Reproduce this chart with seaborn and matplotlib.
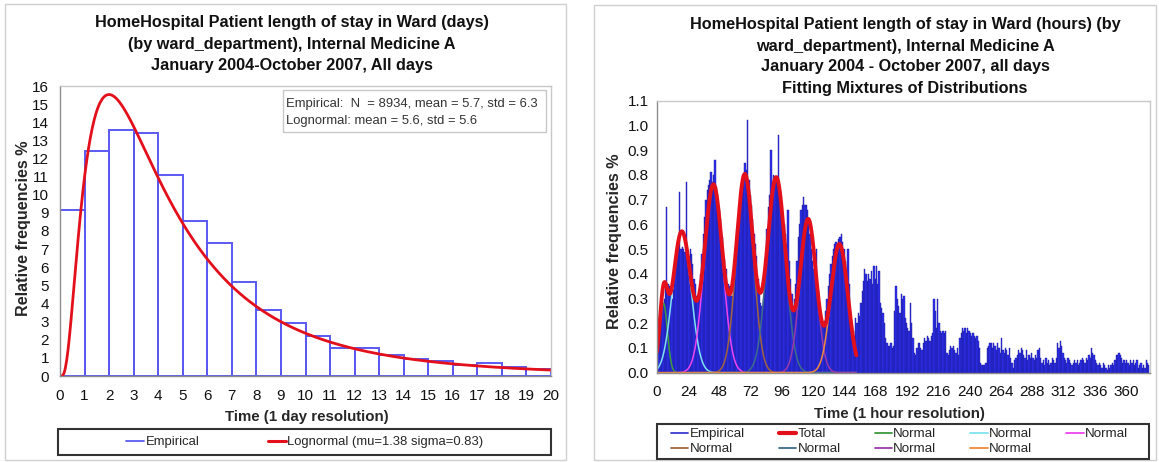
import numpy as np
import pandas as pd
import matplotlib
matplotlib.use("Agg")
import matplotlib.pyplot as plt
from matplotlib.lines import Line2D
from matplotlib.patches import Rectangle
import seaborn as sns

# ------------------------------------------------------------------ data
# Left panel: length of stay in days (relative frequency %, one bar per day)
day_start = list(range(20))
day_freq = [9.15, 12.4, 13.6, 13.4, 11.1, 8.55, 7.35, 5.2, 3.65, 2.9,
            2.2, 1.55, 1.55, 1.15, 0.95, 0.85, 0.6, 0.7, 0.5, 0.4]
day_xticks = list(range(21))
day_yticks = list(range(17))
logn_mu = 1.38
logn_sigma = 0.83
logn_scale = 0.91          # vertical scale of the plotted fitted curve
left_title = ["HomeHospital Patient length of stay in Ward (days)",
              "(by ward_department), Internal Medicine A",
              "January 2004-October 2007, All days"]
left_stats = ["Empirical:  N  = 8934, mean = 5.7, std = 6.3",
              "Lognormal: mean = 5.6, std = 5.6"]
left_legend = ["Empirical", "Lognormal (mu=1.38 sigma=0.83)"]

# Right panel: length of stay in hours (relative frequency %, one bar per hour)
hours_d00 = [0.10, 0.16, 0.24, 0.28, 0.28, 0.30, 0.36, 0.67, 0.36, 0.35, 0.33, 0.30,
             0.34, 0.40, 0.46, 0.50, 0.51, 0.73, 0.50, 0.51, 0.50, 0.49, 0.77, 0.49]
hours_d01 = [0.47, 0.50, 0.48, 0.44, 0.38, 0.36, 0.31, 0.30, 0.33, 0.40, 0.48, 0.56,
             0.63, 0.70, 0.74, 0.76, 0.78, 0.81, 0.77, 0.80, 0.86, 0.75, 0.72, 0.66]
hours_d02 = [0.62, 0.56, 0.55, 0.46, 0.41, 0.42, 0.36, 0.35, 0.33, 0.31, 0.34, 0.40,
             0.48, 0.55, 0.62, 0.68, 0.73, 0.78, 0.80, 0.85, 0.82, 1.02, 0.78, 0.72]
hours_d03 = [0.68, 0.62, 0.56, 0.52, 0.47, 0.38, 0.32, 0.28, 0.27, 0.30, 0.36, 0.45,
             0.58, 0.67, 0.72, 0.90, 0.74, 0.80, 0.79, 0.78, 0.76, 0.96, 0.72, 0.68]
hours_d04 = [0.64, 0.60, 0.56, 0.52, 0.66, 0.45, 0.38, 0.32, 0.27, 0.30, 0.36, 0.45,
             0.55, 0.60, 0.66, 0.68, 0.71, 0.68, 0.68, 0.66, 0.62, 0.56, 0.50, 0.45]
hours_d05 = [0.42, 0.36, 0.50, 0.33, 0.28, 0.24, 0.20, 0.19, 0.21, 0.25, 0.30, 0.35,
             0.40, 0.44, 0.47, 0.50, 0.52, 0.53, 0.52, 0.54, 0.55, 0.56, 0.53, 0.50]
hours_d06 = [0.45, 0.36, 0.50, 0.36, 0.25, 0.20, 0.17, 0.15, 0.22, 0.20, 0.24, 0.23,
             0.28, 0.33, 0.37, 0.42, 0.40, 0.37, 0.40, 0.38, 0.41, 0.36, 0.43, 0.38]
hours_d07 = [0.43, 0.36, 0.41, 0.28, 0.26, 0.24, 0.20, 0.14, 0.12, 0.11, 0.11, 0.12,
             0.10, 0.11, 0.25, 0.35, 0.30, 0.27, 0.24, 0.32, 0.30, 0.31, 0.22, 0.20]
hours_d08 = [0.18, 0.17, 0.28, 0.20, 0.14, 0.08, 0.07, 0.10, 0.12, 0.12, 0.10, 0.09,
             0.12, 0.14, 0.13, 0.15, 0.14, 0.13, 0.15, 0.16, 0.30, 0.25, 0.18, 0.30]
hours_d09 = [0.20, 0.17, 0.16, 0.17, 0.16, 0.17, 0.08, 0.07, 0.09, 0.11, 0.10, 0.11,
             0.09, 0.08, 0.10, 0.07, 0.14, 0.16, 0.18, 0.17, 0.18, 0.16, 0.18, 0.17]
hours_d10 = [0.16, 0.15, 0.16, 0.15, 0.14, 0.15, 0.13, 0.10, 0.04, 0.03, 0.03, 0.03,
             0.04, 0.10, 0.11, 0.12, 0.12, 0.10, 0.12, 0.11, 0.09, 0.12, 0.10, 0.08]
hours_d11 = [0.14, 0.09, 0.08, 0.10, 0.09, 0.07, 0.10, 0.06, 0.04, 0.02, 0.05, 0.06,
             0.07, 0.09, 0.08, 0.10, 0.09, 0.07, 0.06, 0.09, 0.05, 0.07, 0.06, 0.08]
hours_d12 = [0.06, 0.05, 0.07, 0.06, 0.09, 0.10, 0.06, 0.04, 0.05, 0.03, 0.06, 0.04,
             0.05, 0.03, 0.04, 0.06, 0.05, 0.04, 0.06, 0.12, 0.10, 0.13, 0.11, 0.08]
hours_d13 = [0.06, 0.05, 0.04, 0.06, 0.05, 0.04, 0.03, 0.04, 0.05, 0.04, 0.05, 0.03,
             0.04, 0.05, 0.06, 0.05, 0.04, 0.06, 0.05, 0.07, 0.06, 0.10, 0.08, 0.07]
hours_d14 = [0.05, 0.04, 0.03, 0.04, 0.03, 0.02, 0.04, 0.03, 0.02, 0.01, 0.03, 0.02,
             0.03, 0.04, 0.03, 0.05, 0.07, 0.07, 0.08, 0.07, 0.06, 0.04, 0.05, 0.04]
hours_d15 = [0.05, 0.04, 0.03, 0.05, 0.04, 0.05, 0.03, 0.04, 0.05, 0.02, 0.03, 0.04,
             0.02, 0.03, 0.02, 0.05, 0.04, 0.03]
hour_xticks = list(range(0, 361, 24))
hour_yticks = [round(0.1 * i, 1) for i in range(12)]

# fitted normal mixture components: (mean hour, sd hour, peak height %)
comp_mean = [5.0, 19.0, 43.3, 67.4, 91.5, 116.0, 140.0]
comp_sd = [3.0, 7.0, 7.0, 6.5, 7.0, 6.2, 6.5]
comp_peak = [0.28, 0.57, 0.76, 0.80, 0.79, 0.62, 0.52]
comp_colors = ["#3c9a3c", "#7fe3f0", "#ee44ee", "#a0643c", "#3d6b8a", "#9a3aa8", "#f08a3c"]
fit_range = (0.0, 153.0)

right_title = ["HomeHospital Patient length of stay in Ward (hours) (by",
               "ward_department), Internal Medicine A",
               "January 2004 - October 2007, all days",
               "Fitting Mixtures of Distributions"]
right_legend = ["Empirical", "Total", "Normal", "Normal", "Normal",
                "Normal", "Normal", "Normal", "Normal"]

# ------------------------------------------------------------------ style
sns.set_theme(style="white")
plt.rcParams["font.family"] = ["Liberation Sans", "DejaVu Sans"]

W, H = 1159, 462
fig = plt.figure(figsize=(W / 100, H / 100), dpi=100)
fig.patch.set_facecolor("white")

def fx(px):
    return px / W

def fy(py):
    return 1 - py / H

EMP_EDGE = "#5a5af2"
RED = "#e3101c"
BAR_FILL = "#2e2ef2"
BAR_EDGE = "#1c1c96"
SPINE_DARK = "#8c8c8c"
SPINE_LIGHT = "#c8c8c8"
TITLE_SIZE = 11.7
YLABEL_SIZE = 11.6
XLABEL_SIZE = 10.8
TICK_SIZE = 11

def style_axes(ax, xpad, ypad):
    for side in ["left", "bottom"]:
        ax.spines[side].set_color(SPINE_DARK)
        ax.spines[side].set_linewidth(1.0)
    for side in ["top", "right"]:
        ax.spines[side].set_color(SPINE_LIGHT)
        ax.spines[side].set_linewidth(1.0)
    ax.tick_params(axis="both", which="major", direction="out", length=4, width=0.8,
                   color=SPINE_DARK, labelsize=TICK_SIZE, labelcolor="#111111")
    ax.tick_params(axis="x", pad=xpad)
    ax.tick_params(axis="y", pad=ypad)
    ax.grid(False)
    ax.set_facecolor("white")

# panel frames
fig.add_artist(Rectangle((fx(5), fy(460)), fx(560.5), 456 / H, transform=fig.transFigure,
                         fill=False, ec="#d0d0d0", lw=1.0))
fig.add_artist(Rectangle((fx(594), fy(460)), fx(562), 455 / H, transform=fig.transFigure,
                         fill=False, ec="#d0d0d0", lw=1.0))

# ------------------------------------------------------------------ left panel
LX0, LX1, LY0, LY1 = 60.0, 551.0, 86.0, 376.0
axL = fig.add_axes([fx(LX0), fy(LY1), fx(LX1 - LX0), (LY1 - LY0) / H])
left_df = pd.DataFrame({"day": day_start, "freq": day_freq})
sns.histplot(data=left_df, x="day", weights="freq", bins=len(day_start),
             binrange=(0, len(day_start)), fill=False, color=EMP_EDGE, linewidth=1.4, ax=axL)
xs = np.linspace(0.02, 20, 800)
pdf = logn_scale * 100 / (xs * logn_sigma * np.sqrt(2 * np.pi)) * \
    np.exp(-(np.log(xs) - logn_mu) ** 2 / (2 * logn_sigma ** 2))
curve_df = pd.DataFrame({"x": np.r_[0.0, xs], "y": np.r_[0.0, pdf]})
sns.lineplot(data=curve_df, x="x", y="y", color=RED, linewidth=2.0,
             estimator=None, sort=False, ax=axL)
axL.set_xlim(0, 20)
axL.set_ylim(0, 16)
axL.set_xticks(day_xticks)
axL.set_yticks(day_yticks)
style_axes(axL, xpad=5, ypad=4)
axL.set_xlabel("Time (1 day resolution)", fontsize=XLABEL_SIZE, fontweight="bold")
axL.set_ylabel("Relative frequencies %", fontsize=YLABEL_SIZE, fontweight="bold")
axL.xaxis.set_label_coords(0.502, -0.118)
axL.yaxis.set_label_coords(-0.059, 0.509)

for i, line in enumerate(left_title):
    fig.text(fx(291.5), fy(23 + 21 * i), line, ha="center", va="center",
             fontsize=TITLE_SIZE, fontweight="bold", color="#111111")

# stats box
fig.add_artist(Rectangle((fx(282.5), fy(132)), fx(263.5), 42 / H, transform=fig.transFigure,
                         fc="white", ec="#c8c8c8", lw=1.0, zorder=5))
for i, line in enumerate(left_stats):
    fig.text(fx(286), fy(104 + 17 * i), line, ha="left", va="center",
             fontsize=9.4, color="#333333", zorder=6)

# left legend
hL = [Line2D([], [], color=EMP_EDGE, lw=1.3), Line2D([], [], color=RED, lw=2.2)]
fig.legend(hL, left_legend, loc="center", bbox_to_anchor=(fx(304.7), fy(442)), ncol=2,
           frameon=False, fontsize=9.4, handlelength=1.42, handletextpad=0.08,
           columnspacing=5.25, borderpad=0, borderaxespad=0)
fig.add_artist(Rectangle((fx(58), fy(455)), fx(493), 26 / H, transform=fig.transFigure,
                         fill=False, ec="#333333", lw=1.5))

# ------------------------------------------------------------------ right panel
RX0, RX1, RY0, RY1 = 657.0, 1149.5, 100.7, 372.7
axR = fig.add_axes([fx(RX0), fy(RY1), fx(RX1 - RX0), (RY1 - RY0) / H])
hour_vals = (hours_d00 + hours_d01 + hours_d02 + hours_d03 + hours_d04 + hours_d05 +
             hours_d06 + hours_d07 + hours_d08 + hours_d09 + hours_d10 + hours_d11 +
             hours_d12 + hours_d13 + hours_d14 + hours_d15)
right_df = pd.DataFrame({"hour": np.arange(len(hour_vals)), "freq": hour_vals})
sns.histplot(data=right_df, x="hour", weights="freq", bins=len(hour_vals),
             binrange=(0, len(hour_vals)),
             color=BAR_FILL, edgecolor=BAR_EDGE, linewidth=0.3, alpha=1.0, ax=axR)

xf = np.linspace(fit_range[0], fit_range[1], 700)
total = np.zeros_like(xf)
for m, s, p, c in zip(comp_mean, comp_sd, comp_peak, comp_colors):
    comp = p * np.exp(-(xf - m) ** 2 / (2 * s ** 2))
    total += comp
    sns.lineplot(x=xf, y=comp, color=c, linewidth=1.1, estimator=None, sort=False, ax=axR)
sns.lineplot(x=xf, y=total, color=RED, linewidth=2.8, estimator=None, sort=False, ax=axR)

axR.set_xlim(0, 378)
axR.set_ylim(0, 1.1)
axR.set_xticks(hour_xticks)
axR.set_yticks(hour_yticks)
axR.set_yticklabels([f"{v:.1f}" for v in hour_yticks])
style_axes(axR, xpad=4.5, ypad=2)
axR.set_xlabel("Time (1 hour resolution)", fontsize=XLABEL_SIZE, fontweight="bold")
axR.set_ylabel("Relative frequencies %", fontsize=YLABEL_SIZE, fontweight="bold")
axR.xaxis.set_label_coords(0.493, -0.125)
axR.yaxis.set_label_coords(-0.071, 0.485)

for i, line in enumerate(right_title):
    fig.text(fx(905), fy(25 + 21 * i), line, ha="center", va="center",
             fontsize=TITLE_SIZE, fontweight="bold", color="#111111")

# right legend (row-major order reproduced in matplotlib's column-major filling)
hR = [Line2D([], [], color="#3b3bd0", lw=1.3), Line2D([], [], color=RED, lw=3.0)] + \
     [Line2D([], [], color=c, lw=1.3) for c in comp_colors]
order = [0, 5, 1, 6, 2, 7, 3, 8, 4]
fig.legend([hR[i] for i in order], [right_legend[i] for i in order], loc="center",
           bbox_to_anchor=(fx(671), fy(459), fx(1128 - 671), 35 / H), mode="expand",
           ncol=5, frameon=False, fontsize=9.6, handlelength=1.3, handletextpad=0.1,
           borderpad=0, borderaxespad=0, labelspacing=0.2)
fig.add_artist(Rectangle((fx(657), fy(459)), fx(492), 35 / H, transform=fig.transFigure,
                         fill=False, ec="#333333", lw=1.5))

fig.savefig("out.png", dpi=100, facecolor="white")
